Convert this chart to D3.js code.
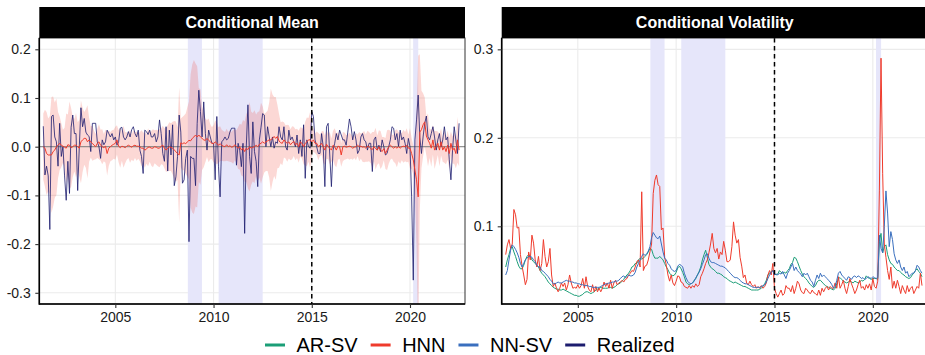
<!DOCTYPE html>
<html><head><meta charset="utf-8">
<script src="https://cdn.jsdelivr.net/npm/d3@7"></script>
<style>body{margin:0;background:#fff;} svg{display:block;font-family:"Liberation Sans",Arial,sans-serif;}</style>
</head><body><svg id="c" width="925" height="355"></svg>
<script>
// ---------- DATA (monthly, starting May 2001) ----------
const startYear = 2001, startMonth = 4;
const realized = [
0.042,-0.058,-0.040,-0.060,-0.170,0.062,0.065,0.020,
0.010,-0.040,0.048,-0.020,0.000,-0.060,-0.110,-0.030,-0.096,0.040,0.065,0.027,
0.027,-0.090,0.000,0.080,0.041,0.058,0.030,0.024,0.021,-0.010,0.048,0.048,
0.048,0.010,0.000,-0.024,0.014,0.004,0.010,0.034,0.027,0.020,0.027,0.014,
0.020,0.003,0.010,0.038,0.040,0.020,0.014,0.020,0.031,0.020,0.035,0.041,
0.027,0.020,0.034,-0.007,-0.020,-0.055,0.034,0.031,0.025,0.034,0.020,0.020,
0.027,0.010,0.020,0.055,0.027,-0.014,-0.030,0.041,-0.050,0.034,-0.017,0.045,
-0.080,-0.062,-0.020,0.065,0.030,-0.075,-0.068,-0.024,-0.007,-0.195,-0.020,-0.024,
-0.024,-0.080,0.048,0.116,0.072,0.020,0.092,0.027,-0.007,0.034,0.020,0.007,
0.007,-0.068,0.062,-0.040,-0.103,0.010,0.014,0.020,0.014,0.017,0.030,0.038,
0.038,0.038,-0.038,0.007,-0.007,-0.041,0.007,-0.178,0.000,0.086,-0.020,-0.055,
0.051,-0.010,-0.030,-0.082,0.014,0.040,0.068,0.065,0.000,0.041,0.020,0.000,
0.020,-0.003,0.010,0.007,0.041,0.020,0.014,0.041,0.000,-0.007,0.034,0.014,
0.020,0.010,0.000,0.024,-0.014,0.014,-0.020,0.045,-0.065,0.014,0.000,-0.003,
0.072,0.062,0.014,0.000,-0.014,-0.014,0.027,0.000,-0.082,0.041,0.048,-0.017,
-0.082,-0.007,0.007,0.027,0.014,0.034,0.024,0.014,0.014,0.003,0.030,0.057,
0.041,0.014,0.031,0.014,-0.014,-0.007,0.020,0.027,0.014,0.010,-0.007,0.007,
0.007,-0.051,0.014,0.020,-0.007,0.003,-0.010,0.014,0.000,-0.017,-0.014,0.000,
0.014,0.041,0.038,0.014,0.027,0.000,0.034,0.014,0.020,0.007,-0.014,0.017,
0.000,-0.103,-0.274,0.014,0.055,0.106,0.020,-0.014,0.020,0.048,0.063,0.020,
0.014,0.027,0.041,0.020,-0.007,0.014,0.027,0.000,0.014,0.041,0.014,0.020,
-0.027,-0.068,-0.007,0.041,0.014,-0.014,0.048];

const hnnMean = [
0.000,-0.003,-0.014,-0.017,-0.017,-0.017,-0.010,-0.007,
0.000,0.003,0.007,0.003,0.001,-0.001,-0.003,0.004,0.003,-0.002,0.000,0.003,
0.003,0.000,-0.003,0.010,0.014,0.017,0.017,0.010,0.014,0.010,0.007,0.003,
0.000,0.007,0.010,0.003,0.000,-0.002,0.001,-0.014,-0.003,0.000,0.003,0.005,
0.007,0.014,0.001,-0.002,0.001,0.000,-0.002,0.001,0.003,0.001,-0.001,0.002,
0.003,0.001,0.001,0.000,-0.003,-0.003,-0.007,-0.005,-0.001,-0.001,-0.003,-0.003,
0.000,-0.001,-0.003,-0.003,0.001,0.003,-0.003,-0.007,-0.003,0.000,-0.001,-0.003,
-0.007,-0.010,-0.014,-0.017,0.008,0.006,0.008,0.006,0.010,0.013,0.012,0.017,
0.020,0.024,0.020,0.024,0.020,0.017,0.014,0.013,0.017,0.013,0.010,0.007,
0.006,0.010,0.007,0.003,0.006,0.003,0.001,0.000,0.004,0.000,0.002,-0.001,
0.000,0.004,0.000,-0.003,0.000,-0.007,-0.003,-0.010,-0.003,-0.006,0.000,-0.003,
-0.001,0.000,0.003,0.000,0.005,0.007,0.010,0.007,0.010,0.012,0.014,0.014,
0.017,0.021,0.017,0.021,0.012,0.008,0.007,0.014,0.010,0.007,0.010,0.004,
0.008,0.011,0.004,0.007,0.000,0.010,0.007,0.000,0.007,0.010,0.014,0.014,
0.010,0.014,0.007,0.007,0.000,0.003,0.007,0.000,-0.007,0.005,0.000,-0.003,
-0.007,0.003,0.000,-0.007,0.001,0.000,-0.017,0.000,0.001,-0.001,0.000,0.001,
0.000,-0.003,-0.001,0.000,0.003,0.000,0.001,-0.001,0.000,-0.003,0.001,0.000,
-0.004,-0.006,0.000,-0.004,-0.007,0.000,-0.007,-0.010,-0.004,-0.014,-0.007,0.000,
0.003,0.000,-0.003,0.000,-0.003,0.000,-0.003,0.000,0.001,0.000,0.003,-0.003,
-0.003,-0.014,-0.027,-0.048,-0.068,-0.103,0.030,0.035,0.045,0.051,0.022,0.014,
0.007,-0.003,0.014,-0.007,0.000,0.007,-0.007,0.010,-0.007,0.000,-0.010,0.003,
-0.014,0.007,-0.007,-0.003,-0.014,0.014,-0.007];

const hnnVol = [
0.068,0.079,0.085,0.075,0.080,0.119,0.113,0.098,
0.099,0.068,0.055,0.045,0.034,0.040,0.071,0.062,0.090,0.081,0.062,0.054,
0.066,0.050,0.058,0.085,0.066,0.054,0.060,0.075,0.045,0.032,0.036,0.030,
0.026,0.030,0.036,0.032,0.036,0.028,0.034,0.045,0.036,0.030,0.031,0.030,
0.034,0.030,0.033,0.041,0.030,0.043,0.032,0.028,0.026,0.034,0.026,0.032,
0.026,0.030,0.026,0.030,0.037,0.032,0.036,0.030,0.039,0.030,0.036,0.039,
0.034,0.036,0.037,0.039,0.037,0.040,0.041,0.045,0.047,0.050,0.049,0.054,
0.060,0.062,0.054,0.139,0.050,0.055,0.056,0.062,0.071,0.080,0.137,0.152,
0.158,0.147,0.145,0.096,0.098,0.065,0.056,0.045,0.038,0.045,0.036,0.033,
0.038,0.044,0.043,0.037,0.036,0.032,0.031,0.030,0.033,0.030,0.033,0.031,
0.035,0.032,0.034,0.043,0.047,0.052,0.058,0.062,0.070,0.080,0.092,0.075,
0.070,0.075,0.063,0.071,0.068,0.083,0.073,0.060,0.060,0.062,0.077,0.105,
0.090,0.081,0.085,0.065,0.055,0.042,0.045,0.036,0.034,0.038,0.034,0.032,
0.034,0.030,0.032,0.030,0.033,0.030,0.032,0.036,0.045,0.050,0.045,0.058,
0.030,0.024,0.020,0.024,0.028,0.022,0.024,0.033,0.030,0.030,0.026,0.033,
0.024,0.030,0.038,0.035,0.028,0.025,0.024,0.030,0.028,0.025,0.024,0.028,
0.025,0.024,0.022,0.028,0.022,0.030,0.026,0.030,0.032,0.028,0.032,0.030,
0.030,0.036,0.030,0.043,0.030,0.034,0.039,0.030,0.024,0.032,0.041,0.035,
0.030,0.024,0.028,0.034,0.039,0.030,0.032,0.028,0.034,0.030,0.035,0.028,
0.041,0.032,0.030,0.038,0.140,0.290,0.160,0.080,0.065,0.050,0.040,0.054,
0.030,0.038,0.030,0.039,0.032,0.024,0.033,0.028,0.024,0.033,0.026,0.030,
0.032,0.024,0.028,0.032,0.030,0.047,0.033];

const nnsvVol = [
0.045,0.050,0.062,0.073,0.079,0.077,0.074,0.070,
0.065,0.058,0.054,0.058,0.062,0.064,0.066,0.066,0.065,0.062,0.060,0.056,
0.054,0.054,0.050,0.049,0.047,0.045,0.043,0.040,0.038,0.035,0.035,0.036,
0.037,0.036,0.036,0.037,0.038,0.039,0.038,0.038,0.037,0.037,0.036,0.036,
0.035,0.035,0.034,0.034,0.033,0.033,0.033,0.032,0.032,0.031,0.031,0.031,
0.031,0.031,0.032,0.033,0.034,0.035,0.035,0.036,0.036,0.037,0.037,0.038,
0.038,0.039,0.041,0.043,0.044,0.042,0.043,0.045,0.044,0.044,0.045,0.048,
0.054,0.058,0.062,0.066,0.069,0.067,0.069,0.072,0.077,0.087,0.093,0.090,
0.087,0.086,0.089,0.080,0.071,0.064,0.062,0.058,0.056,0.052,0.050,0.049,
0.050,0.055,0.057,0.056,0.054,0.047,0.042,0.038,0.036,0.035,0.036,0.038,
0.042,0.045,0.048,0.052,0.057,0.062,0.068,0.069,0.064,0.060,0.059,0.059,
0.058,0.057,0.056,0.055,0.055,0.054,0.053,0.051,0.049,0.047,0.045,0.043,
0.042,0.042,0.041,0.039,0.037,0.036,0.035,0.035,0.034,0.033,0.032,0.031,
0.031,0.031,0.031,0.031,0.032,0.033,0.034,0.037,0.041,0.045,0.048,0.050,
0.045,0.046,0.045,0.047,0.046,0.049,0.045,0.041,0.047,0.050,0.054,0.058,
0.050,0.054,0.050,0.048,0.046,0.043,0.047,0.045,0.047,0.043,0.039,0.037,
0.032,0.039,0.045,0.041,0.047,0.043,0.045,0.043,0.041,0.039,0.037,0.034,
0.030,0.032,0.039,0.047,0.049,0.045,0.043,0.041,0.039,0.043,0.042,0.040,
0.043,0.044,0.042,0.044,0.043,0.041,0.042,0.040,0.041,0.043,0.042,0.041,
0.043,0.042,0.041,0.042,0.090,0.075,0.070,0.100,0.140,0.115,0.077,0.094,
0.085,0.069,0.062,0.058,0.062,0.054,0.050,0.054,0.047,0.049,0.043,0.045,
0.047,0.047,0.050,0.056,0.054,0.050,0.047];

const arsvVol = [
0.054,0.062,0.068,0.075,0.077,0.071,0.066,0.060,
0.055,0.052,0.052,0.056,0.062,0.066,0.068,0.066,0.062,0.060,0.058,0.056,
0.054,0.050,0.047,0.045,0.043,0.040,0.037,0.035,0.033,0.031,0.030,0.029,
0.029,0.028,0.028,0.029,0.028,0.027,0.026,0.025,0.024,0.023,0.022,0.022,
0.021,0.021,0.022,0.023,0.025,0.026,0.026,0.025,0.024,0.025,0.026,0.028,
0.029,0.030,0.031,0.030,0.030,0.030,0.030,0.031,0.031,0.030,0.031,0.032,
0.034,0.035,0.036,0.038,0.040,0.043,0.045,0.047,0.050,0.054,0.055,0.058,
0.058,0.062,0.064,0.063,0.064,0.066,0.068,0.071,0.075,0.074,0.068,0.064,
0.064,0.064,0.066,0.064,0.062,0.058,0.054,0.051,0.047,0.045,0.044,0.045,
0.048,0.053,0.055,0.052,0.048,0.043,0.037,0.035,0.034,0.035,0.036,0.039,
0.041,0.045,0.049,0.054,0.062,0.068,0.073,0.065,0.057,0.054,0.052,0.051,
0.049,0.047,0.047,0.046,0.045,0.043,0.042,0.041,0.039,0.038,0.037,0.036,
0.037,0.036,0.035,0.034,0.033,0.032,0.032,0.031,0.030,0.029,0.028,0.028,
0.028,0.028,0.028,0.029,0.030,0.032,0.035,0.039,0.045,0.047,0.049,0.050,
0.047,0.045,0.046,0.050,0.048,0.047,0.048,0.047,0.050,0.052,0.057,0.059,
0.065,0.064,0.060,0.055,0.050,0.046,0.043,0.041,0.039,0.036,0.034,0.032,
0.031,0.033,0.037,0.039,0.039,0.037,0.035,0.033,0.032,0.031,0.030,0.029,
0.028,0.030,0.035,0.041,0.042,0.040,0.038,0.037,0.036,0.037,0.038,0.037,
0.036,0.038,0.037,0.036,0.037,0.039,0.038,0.040,0.044,0.042,0.041,0.040,
0.041,0.041,0.041,0.040,0.083,0.092,0.070,0.077,0.079,0.068,0.062,0.058,
0.057,0.054,0.052,0.050,0.050,0.048,0.046,0.045,0.043,0.042,0.041,0.042,
0.045,0.047,0.050,0.052,0.049,0.047,0.043];

const shadeStart = [2008.69, 2010.26, 2020.16];
const shadeEnd   = [2009.41, 2012.50, 2020.42];
const meanTicks = [-0.3, -0.2, -0.1, 0.0, 0.1, 0.2];
const volTicks  = [0.1, 0.2, 0.3];
const yearTicks = [2005, 2010, 2015, 2020];
const splitYear = 2015;
const panelTitles = ["Conditional Mean", "Conditional Volatility"];
const legendNames  = ["AR-SV", "HNN", "NN-SV", "Realized"];
const legendColors = ["#1b9e77", "#ef3b2c", "#3a6fbe", "#1c1c6e"];

// ---------- BUILD ----------
const times = realized.map((_, i) => startYear + (startMonth + i) / 12);
const rows = times.map((t, i) => ({t, r: realized[i], m: hnnMean[i], v: hnnVol[i], nn: nnsvVol[i], ar: arsvVol[i]}));
const col = Object.fromEntries(legendNames.map((n, i) => [n, legendColors[i]]));

const svg = d3.select("#c");
const yTop = 38, yBot = 304, stripTop = 7;
const xDomain = [2001.13, 2022.8];
const panels = [
  {x0: 39.3, x1: 465, yDom: [-0.323, 0.2232], ticks: meanTicks, title: panelTitles[0]},
  {x0: 501.7, x1: 927.9, yDom: [0.0122, 0.3128], ticks: volTicks, title: panelTitles[1]}
];

panels.forEach((p, pi) => {
  const x = d3.scaleLinear().domain(xDomain).range([p.x0, p.x1]);
  const y = d3.scaleLinear().domain(p.yDom).range([yBot, yTop]);
  const g = svg.append("g");
  const clipId = "clip" + pi;
  svg.append("clipPath").attr("id", clipId).append("rect")
    .attr("x", p.x0).attr("y", yTop).attr("width", p.x1 - p.x0).attr("height", yBot - yTop);
  const pg = g.append("g").attr("clip-path", `url(#${clipId})`);

  pg.selectAll(".gy").data(p.ticks).join("line")
    .attr("x1", p.x0).attr("x2", p.x1).attr("y1", d => y(d)).attr("y2", d => y(d))
    .attr("stroke", "#ebebeb").attr("stroke-width", 1.1);
  pg.selectAll(".gx").data(yearTicks).join("line")
    .attr("x1", d => x(d)).attr("x2", d => x(d)).attr("y1", yTop).attr("y2", yBot)
    .attr("stroke", "#ebebeb").attr("stroke-width", 1.1);

  pg.selectAll(".sh").data(shadeStart).join("rect")
    .attr("x", (d) => x(d)).attr("width", (d, i) => x(shadeEnd[i]) - x(d))
    .attr("y", yTop).attr("height", yBot - yTop).attr("fill", "#e6e6fa");

  if (pi === 0) {
    const band = d3.area().x(d => x(d.t)).y0(d => y(d.m - d.v)).y1(d => y(d.m + d.v));
    pg.append("path").datum(rows).attr("d", band).attr("fill", col["HNN"]).attr("fill-opacity", 0.2);
    pg.append("line").attr("x1", p.x0).attr("x2", p.x1).attr("y1", y(0)).attr("y2", y(0))
      .attr("stroke", "#7f7f7f").attr("stroke-width", 1);
    const lr = d3.line().x(d => x(d.t)).y(d => y(d.r));
    pg.append("path").datum(rows).attr("d", lr).attr("fill", "none")
      .attr("stroke", col["Realized"]).attr("stroke-width", 0.8);
    const lm = d3.line().x(d => x(d.t)).y(d => y(d.m));
    pg.append("path").datum(rows).attr("d", lm).attr("fill", "none")
      .attr("stroke", col["HNN"]).attr("stroke-width", 1);
  } else {
    [["ar", "AR-SV"], ["v", "HNN"], ["nn", "NN-SV"]].forEach(([k, n]) => {
      const l = d3.line().x(d => x(d.t)).y(d => y(d[k]));
      pg.append("path").datum(rows).attr("d", l).attr("fill", "none")
        .attr("stroke", col[n]).attr("stroke-width", 1);
    });
  }
  pg.append("line").attr("x1", x(splitYear)).attr("x2", x(splitYear)).attr("y1", yTop).attr("y2", yBot)
    .attr("stroke", "#000").attr("stroke-width", 1.5).attr("stroke-dasharray", "4.5,3.5");

  g.append("rect").attr("x", p.x0).attr("y", yTop).attr("width", p.x1 - p.x0).attr("height", yBot - yTop)
    .attr("fill", "none").attr("stroke", "#333").attr("stroke-width", 1);
  g.append("line").attr("x1", p.x0).attr("x2", p.x0).attr("y1", yTop).attr("y2", yBot + 0.75)
    .attr("stroke", "#000").attr("stroke-width", 1.6);
  g.append("line").attr("x1", p.x0).attr("x2", p.x1).attr("y1", yBot).attr("y2", yBot)
    .attr("stroke", "#000").attr("stroke-width", 1.6);

  const ay = g.append("g").attr("transform", `translate(${p.x0},0)`)
    .call(d3.axisLeft(y).tickValues(p.ticks).tickSize(4).tickPadding(4.5).tickFormat(d => d.toFixed(1)));
  const ax = g.append("g").attr("transform", `translate(0,${yBot})`)
    .call(d3.axisBottom(x).tickValues(yearTicks).tickSize(4).tickPadding(4.5).tickFormat(d3.format("d")));
  [ay, ax].forEach(a => {
    a.select(".domain").remove();
    a.selectAll(".tick line").attr("stroke", "#333").attr("stroke-width", 1.1);
    a.selectAll("text").attr("fill", "#1a1a1a").style("font-size", "14px")
      .style("font-family", '"Liberation Sans", Arial, sans-serif');
  });

  g.append("rect").attr("x", p.x0).attr("y", stripTop).attr("width", p.x1 - p.x0).attr("height", yTop - stripTop)
    .attr("fill", "#000");
  g.append("text").attr("x", (p.x0 + p.x1) / 2).attr("y", 28.3).attr("text-anchor", "middle")
    .attr("fill", "#fff").style("font-size", "16px").style("font-weight", "bold").text(p.title);
});

const lg = svg.append("g");
let lx = 265;
legendNames.forEach((n, i) => {
  lg.append("line").attr("x1", lx).attr("x2", lx + 20).attr("y1", 345).attr("y2", 345)
    .attr("stroke", legendColors[i]).attr("stroke-width", 3);
  const t = lg.append("text").attr("x", lx + 31.5).attr("y", 352.3).style("font-size", "20px")
    .attr("fill", "#000").text(n);
  lx = lx + 31.5 + t.node().getComputedTextLength() + 13;
});
</script></body></html>
